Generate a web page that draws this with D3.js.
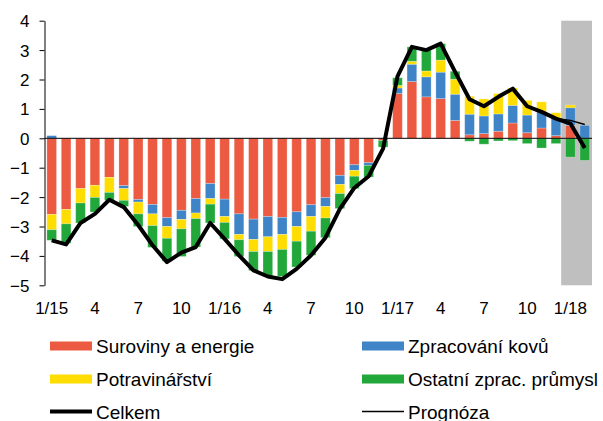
<!DOCTYPE html>
<html>
<head>
<meta charset="utf-8">
<script src="https://d3js.org/d3.v7.min.js"></script>
<style>
  body { margin: 0; background: #fff; }
  text { font-family: Arial, "Liberation Sans", sans-serif; fill: #000; }
</style>
</head>
<body>
<div id="chart"></div>
<script>
// months 1/15 .. 2/18
var months = d3.range(38);
var tickLabels = ["1/15","","","4","","","7","","","10","","",
                  "1/16","","","4","","","7","","","10","","",
                  "1/17","","","4","","","7","","","10","","",
                  "1/18",""];

// contributions (p.p.)
var suroviny = [-2.59,-2.42,-1.71,-1.60,-1.33,-1.61,-2.08,-2.25,-2.70,-2.45,-2.05,-1.54,
                -2.07,-2.57,-2.75,-2.66,-2.69,-2.50,-2.26,-2.02,-1.26,-0.90,-0.83,-0.07,
                 1.52, 1.93, 1.41, 1.35, 0.61, 0.12, 0.16, 0.24, 0.52, 0.19, 0.35, 0.09,
                 0.44, 0.00];
var kovy     = [ 0.09, 0.00, 0.00, 0.00, 0.00,-0.10,-0.09,-0.32,-0.30,-0.31,-0.49,-0.51,
                -0.59,-0.70,-0.69,-0.69,-0.58,-0.50,-0.40,-0.30,-0.31,-0.19,-0.09, 0.00,
                 0.19, 0.59, 0.68, 0.90, 0.89, 0.70, 0.60, 0.59, 0.60, 0.60, 0.55, 0.58,
                 0.60, 0.44];
var potraviny = [-0.52,-0.49,-0.49,-0.41,-0.51,-0.40,-0.40,-0.40,-0.40,-0.32,-0.19,-0.19,
                 -0.20,-0.18,-0.41,-0.50,-0.51,-0.50,-0.50,-0.39,-0.31,-0.20, 0.00, 0.00,
                  0.09, 0.10, 0.20, 0.41, 0.51, 0.61, 0.58, 0.69, 0.59, 0.50, 0.34, 0.20,
                  0.09, 0.00];
var ostatni  = [-0.36,-0.66,-0.68,-0.50,-0.27,-0.21,-0.43,-0.74,-0.78,-0.94,-0.97,-0.64,
                -0.56,-0.57,-0.65,-0.82,-0.92,-0.88,-0.82,-0.67,-0.51,-0.42,-0.40,-0.23,
                 0.26, 0.49, 0.71, 0.56, 0.27,-0.10,-0.20,-0.09,-0.08,-0.18,-0.33,-0.18,
                -0.64,-0.75];
var celkem   = [-3.47,-3.61,-2.88,-2.57,-2.09,-2.34,-2.95,-3.64,-4.21,-3.89,-3.70,-2.88,
                -3.42,-3.98,-4.49,-4.70,-4.79,-4.44,-3.98,-3.38,-2.40,-1.69,-1.29,-0.35,
                 2.11, 3.11, 3.00, 3.22, 2.26, 1.33, 1.09, 1.41, 1.69, 1.09, 0.90, 0.67,
                 0.50,-0.33];
// forecast line, starts at 12/17
var prognozaStart = 35;
var prognoza = [0.67, 0.61, 0.47];
var forecastFrom = 36; // shaded area 1/18 onwards

var seriesKeys = ["suroviny","kovy","potraviny","ostatni"];
var seriesNames = ["Suroviny a energie","Zpracování kovů","Potravinářství","Ostatní zprac. průmysl"];
var colors = ["#EC5B41","#3E84C7","#FFDD00","#22A83A"];

var width = 603, height = 421;
var plot = {left: 44.5, right: 592, top: 20.7, bottom: 285.3};

var svg = d3.select("#chart").append("svg")
    .attr("width", width)
    .attr("height", height);

var x = d3.scaleBand()
    .domain(months)
    .range([plot.left, plot.right])
    .paddingInner(0.33)
    .paddingOuter(0.165);

var y = d3.scaleLinear()
    .domain([-5, 4])
    .range([plot.bottom, plot.top]);

// table for the stack
var table = months.map(function(i) {
    return {suroviny: suroviny[i], kovy: kovy[i], potraviny: potraviny[i], ostatni: ostatni[i]};
});

var stacked = d3.stack()
    .keys(seriesKeys)
    .offset(d3.stackOffsetDiverging)(table);

// grey forecast band
var bandStart = x(forecastFrom) - x.step() * x.paddingInner() / 2 - 2;
svg.append("rect")
    .attr("x", bandStart)
    .attr("y", y(4))
    .attr("width", plot.right - bandStart)
    .attr("height", y(-5) - y(4))
    .attr("fill", "#BFBFBF");

// bars
svg.append("g").selectAll("g")
    .data(stacked)
    .enter().append("g")
    .attr("fill", function(d, i) { return colors[i]; })
    .selectAll("rect")
    .data(function(d) { return d; })
    .enter().append("rect")
    .attr("x", function(d, i) { return x(i); })
    .attr("width", x.bandwidth())
    .attr("y", function(d) { return y(Math.max(d[0], d[1])); })
    .attr("height", function(d) { return Math.abs(y(d[0]) - y(d[1])); })
    .attr("stroke", "#fff")
    .attr("stroke-opacity", 0.3)
    .attr("stroke-width", 0.8);

// zero line
svg.append("line")
    .attr("x1", plot.left)
    .attr("x2", plot.right)
    .attr("y1", y(0))
    .attr("y2", y(0))
    .attr("stroke", "#000")
    .attr("stroke-width", 1);

// y axis
var yAxis = svg.append("g")
    .attr("transform", "translate(" + plot.left + ",0)")
    .call(d3.axisLeft(y).ticks(9).tickSize(5).tickPadding(10).tickSizeOuter(0)
        .tickFormat(d3.format("d")));
yAxis.selectAll("text").style("font-size", "17px").attr("dy", "0.35em");
yAxis.select(".domain").attr("stroke", "#000");

// x labels
svg.append("g").selectAll("text")
    .data(months)
    .enter().append("text")
    .attr("x", function(i) { return x(i) + x.bandwidth() / 2; })
    .attr("y", 314)
    .attr("text-anchor", "middle")
    .style("font-size", "17px")
    .text(function(i) { return tickLabels[i]; });

// total line + forecast
var line = d3.line()
    .x(function(d) { return x(d[0]) + x.bandwidth() / 2; })
    .y(function(d) { return y(d[1]); });

svg.append("path")
    .datum(months.map(function(i) { return [i, celkem[i]]; }))
    .attr("d", line)
    .attr("fill", "none")
    .attr("stroke", "#000")
    .attr("stroke-width", 4)
    .attr("stroke-linejoin", "round");

svg.append("path")
    .datum(prognoza.map(function(v, k) { return [prognozaStart + k, v]; }))
    .attr("d", line)
    .attr("fill", "none")
    .attr("stroke", "#000")
    .attr("stroke-width", 1.5);

// legend
var legend = [
    {name: seriesNames[0], color: colors[0], type: "box", col: 0, row: 0},
    {name: seriesNames[1], color: colors[1], type: "box", col: 1, row: 0},
    {name: seriesNames[2], color: colors[2], type: "box", col: 0, row: 1},
    {name: seriesNames[3], color: colors[3], type: "box", col: 1, row: 1},
    {name: "Celkem", color: "#000", type: "thick", col: 0, row: 2},
    {name: "Prognóza", color: "#000", type: "thin", col: 1, row: 2}
];
var colX = [50, 362], rowY = [346, 379, 411.5];

var lg = svg.append("g").selectAll("g")
    .data(legend)
    .enter().append("g")
    .attr("transform", function(d) { return "translate(" + colX[d.col] + "," + rowY[d.row] + ")"; });

lg.append("rect")
    .attr("x", 0)
    .attr("width", 42)
    .attr("y", function(d) { return d.type == "box" ? -4.5 : (d.type == "thick" ? -2 : -0.75); })
    .attr("height", function(d) { return d.type == "box" ? 9 : (d.type == "thick" ? 4 : 1.5); })
    .attr("fill", function(d) { return d.color; });

lg.append("text")
    .attr("x", 46)
    .attr("y", 7)
    .style("font-size", "19px")
    .text(function(d) { return d.name; });
</script>
</body>
</html>
